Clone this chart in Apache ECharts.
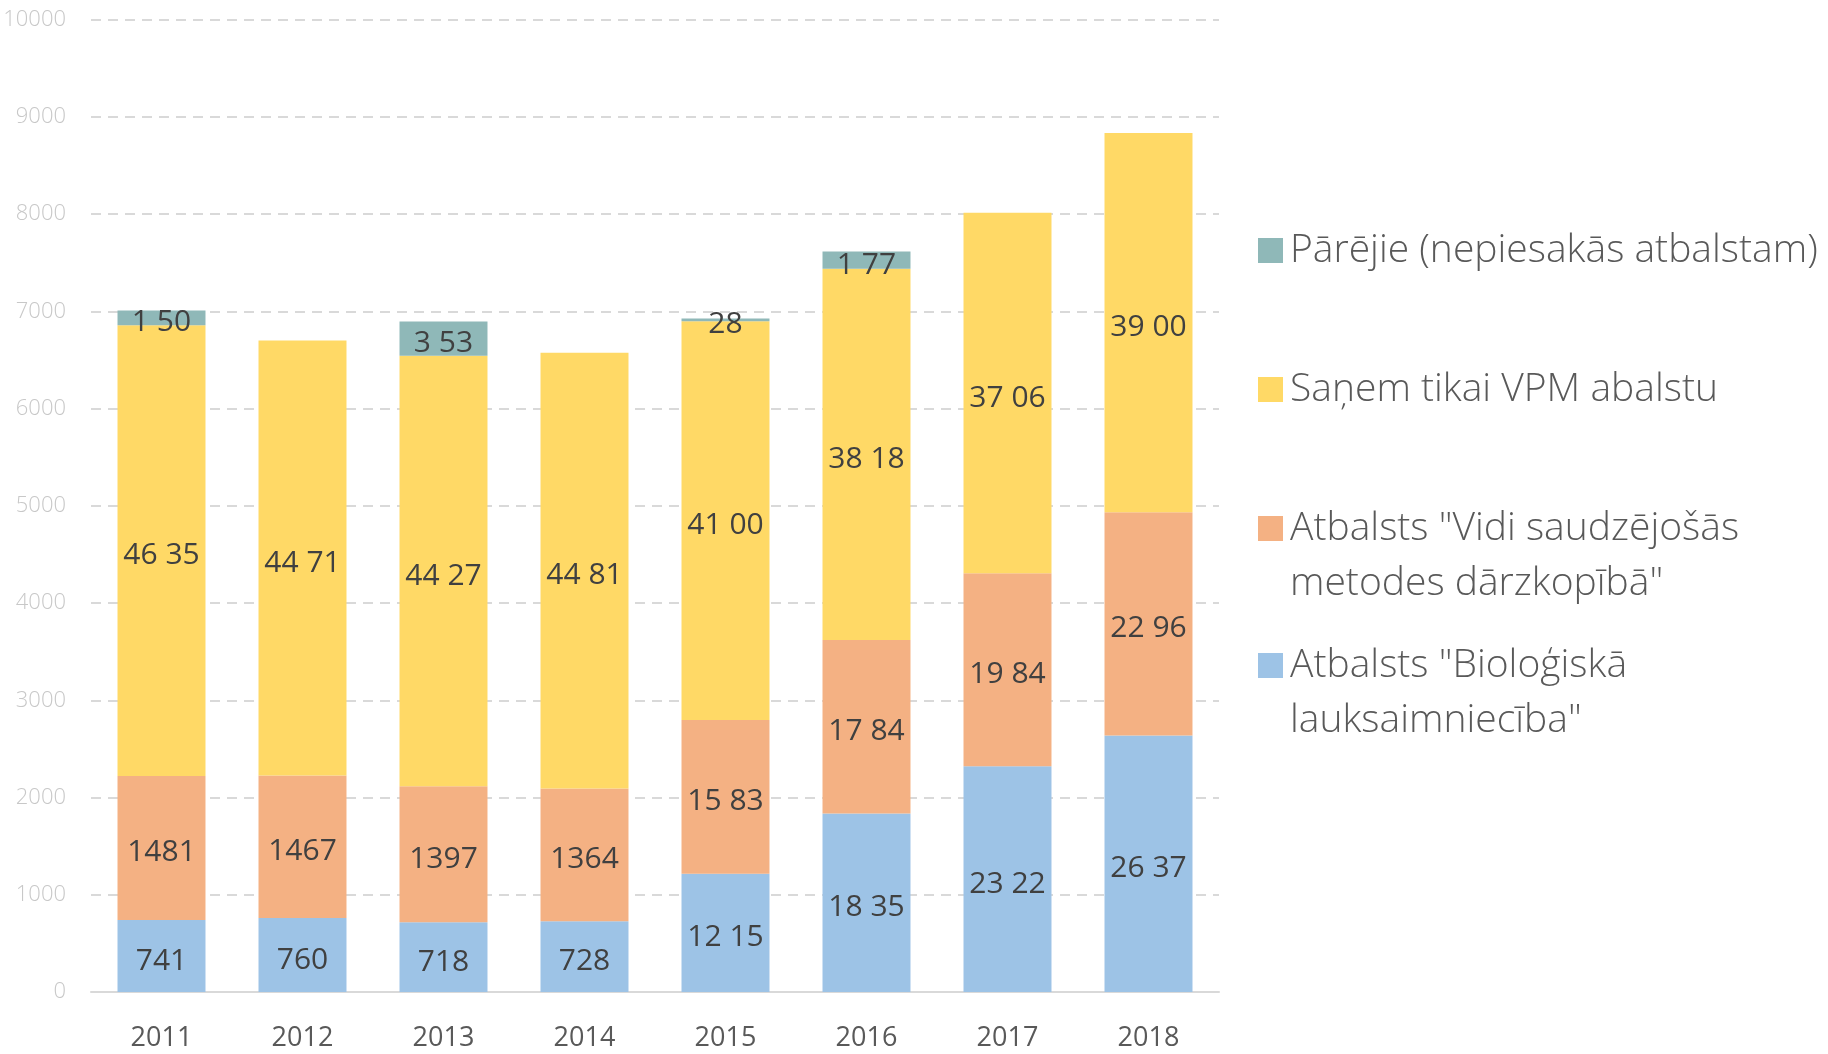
<!DOCTYPE html>
<html><head><meta charset="utf-8">
<script src="https://cdn.jsdelivr.net/npm/echarts@6/dist/echarts.min.js"></script>
<style>html,body{margin:0;padding:0;background:#fff}#c{width:1828px;height:1054px}</style>
</head><body><div id="c"></div>
<script>
const years = ['2011','2012','2013','2014','2015','2016','2017','2018'];
const bio = [741, 760, 718, 728, 1215, 1835, 2322, 2637];
const vidi = [1481, 1467, 1397, 1364, 1583, 1784, 1984, 2296];
const vpm = [4635, 4471, 4427, 4481, 4100, 3818, 3706, 3900];
const parejie = [150, 0, 353, 0, 28, 177, 0, 0];
const bioLabels = ['741','760','718','728','12 15','18 35','23 22','26 37'];
const vidiLabels = ['1481','1467','1397','1364','15 83','17 84','19 84','22 96'];
const vpmLabels = ['46 35','44 71','44 27','44 81','41 00','38 18','37 06','39 00'];
const parejieLabels = ['1 50','','3 53','','28','1 77','',''];
const yTicks = {min: 0, max: 10000, interval: 1000};

const names = {
  parejie: 'Pārējie (nepiesakās atbalstam)',
  vpm: 'Saņem tikai VPM abalstu',
  vidi: 'Atbalsts "Vidi saudzējošās metodes dārzkopībā"',
  bio: 'Atbalsts "Bioloģiskā lauksaimniecība"'
};
const legendText = {};
legendText[names.parejie] = names.parejie;
legendText[names.vpm] = names.vpm;
legendText[names.vidi] = '\nAtbalsts "Vidi saudzējošās\nmetodes dārzkopībā"';
legendText[names.bio] = '\nAtbalsts "Bioloģiskā\nlauksaimniecība"';

const FONT = "'Open Sans', 'Noto Sans', sans-serif";
function mkSeries(name, data, labels, color) {
  return {
    name, type: 'bar', stack: 'total', data,
    barCategoryGap: '37.6%',
    itemStyle: {color},
    label: {
      show: true, position: 'inside', color: '#404040', fontSize: 30, fontFamily: FONT,
      offset: [0, 5],
      formatter: p => labels[p.dataIndex]
    },
    emphasis: {disabled: true}
  };
}
function mkLegend(name, top) {
  return {
    data: [name], left: 1253, top: top, itemWidth: 25, itemHeight: 25, icon: 'rect',
    selectedMode: false,
    itemGap: 10,
    formatter: n => legendText[n],
    textStyle: {fontSize: 39, color: '#595959', fontFamily: FONT, fontWeight: 300, lineHeight: 55, padding: [0,0,0,2]}
  };
}
const chart = echarts.init(document.getElementById('c'), null, {renderer: 'canvas'});
chart.setOption({
  animation: false,
  grid: {left: 91, right: 609, top: 19.5, bottom: 62, containLabel: false},
  legend: [
    mkLegend(names.parejie, 218),
    mkLegend(names.vpm, 357),
    mkLegend(names.vidi, 441),
    mkLegend(names.bio, 578)
  ],
  xAxis: {
    type: 'category', data: years,
    axisLine: {lineStyle: {color: '#d9d9d9', width: 2}},
    axisTick: {show: false},
    axisLabel: {color: '#595959', fontSize: 27, fontFamily: FONT, margin: 33}
  },
  yAxis: {
    type: 'value', min: yTicks.min, max: yTicks.max, interval: yTicks.interval,
    axisLine: {show: false}, axisTick: {show: false},
    axisLabel: {color: '#c8c8c8', fontSize: 22, fontFamily: FONT, fontWeight: 300, margin: 25,
      formatter: v => String(v)},
    splitLine: {lineStyle: {color: '#d9d9d9', width: 2, type: [10, 7]}}
  },
  series: [
    mkSeries(names.bio, bio, bioLabels, '#9DC3E6'),
    mkSeries(names.vidi, vidi, vidiLabels, '#F4B183'),
    mkSeries(names.vpm, vpm, vpmLabels, '#FFD966'),
    mkSeries(names.parejie, parejie, parejieLabels, '#8FB8B8')
  ]
});
</script></body></html>
